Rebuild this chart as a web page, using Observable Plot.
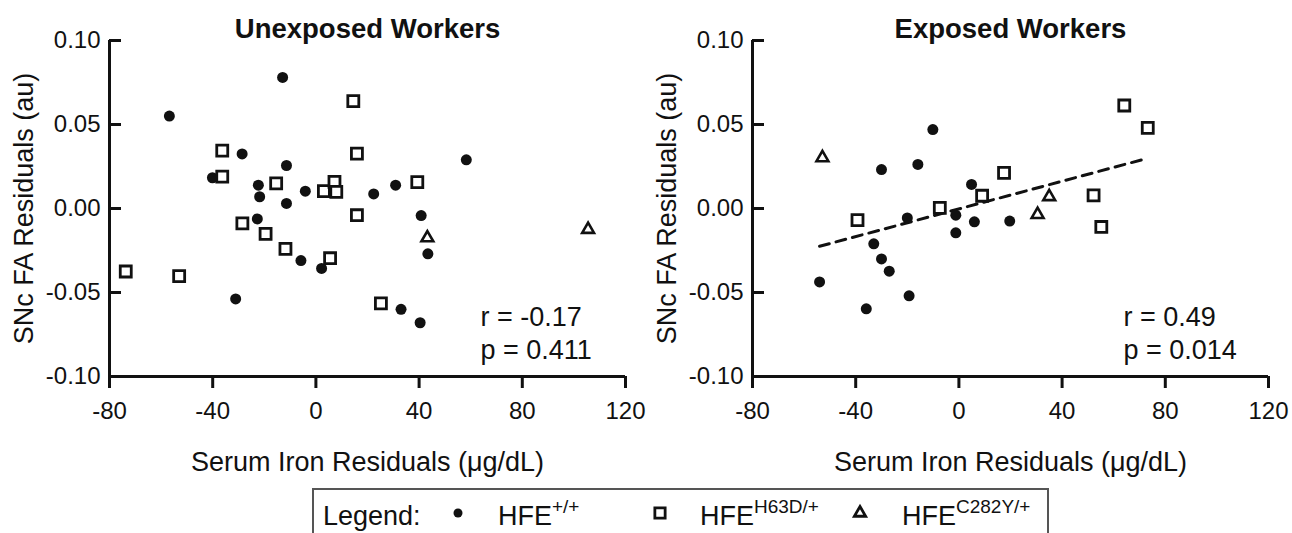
<!DOCTYPE html>
<html><head><meta charset="utf-8">
<script src="https://cdn.jsdelivr.net/npm/d3@7"></script>
<script src="https://cdn.jsdelivr.net/npm/@observablehq/plot@0.6"></script>
<style>
html,body{margin:0;padding:0;background:#fff;overflow:hidden;}
#wrap{position:relative;width:1292px;height:533px;font-family:"Liberation Sans",Arial,sans-serif;color:#111;}
#left,#right,#legend{position:absolute;}
#left{left:0;top:0}
#right{left:646px;top:0}
#legend{left:0;top:480px}
</style></head>
<body><div id="wrap"><div id="left"></div><div id="right"></div><div id="legend"></div></div>
<script>
// ---- axes ----
const xDomain = [-80, 120];
const yDomain = [-0.10, 0.10];
const xTicks = [-80, -40, 0, 40, 80, 120];
const yTicks = [-0.10, -0.05, 0.00, 0.05, 0.10];
const xTitle = "Serum Iron Residuals (\u03bcg/dL)";
const yTitle = "SNc FA Residuals (au)";
const panelTitles = ["Unexposed Workers", "Exposed Workers"];
const statsText = [["r = -0.17", "p = 0.411"], ["r = 0.49", "p = 0.014"]];
const legendNames = [["HFE", "+/+"], ["HFE", "H63D/+"], ["HFE", "C282Y/+"]];

// ---- Unexposed workers: [iron residual, FA residual] ----
const unexposedWT = [
  [-12.9, 0.078], [-56.8, 0.055], [-28.6, 0.0325], [58.3, 0.029], [-11.4, 0.0256],
  [-40.1, 0.0183], [-22.3, 0.0139], [-4.1, 0.0103], [22.4, 0.0087], [30.9, 0.0139],
  [-21.8, 0.007], [-11.4, 0.003], [-22.7, -0.0062], [-5.8, -0.031], [2.2, -0.0357],
  [40.8, -0.0042], [43.4, -0.027], [-31.1, -0.0538], [33.0, -0.060], [40.4, -0.068]
];
const unexposedH63D = [
  [14.5, 0.0639], [-36.3, 0.0345], [15.9, 0.0327], [-36.3, 0.019], [-15.4, 0.0149],
  [3.1, 0.0103], [7.2, 0.0159], [7.9, 0.0099], [39.3, 0.0157], [-28.5, -0.0089],
  [-19.5, -0.0151], [-11.8, -0.024], [5.5, -0.0296], [15.9, -0.004], [-73.7, -0.0375],
  [-53.0, -0.0403], [25.2, -0.0565]
];
const unexposedC282Y = [[43.2, -0.0175], [105.5, -0.0125]];

// ---- Exposed workers ----
const exposedWT = [
  [-30.0, 0.0232], [-15.9, 0.0262], [-10.1, 0.047], [4.9, 0.0143], [-20.0, -0.0056],
  [-1.2, -0.004], [-1.2, -0.0145], [6.0, -0.0079], [19.7, -0.0075], [-33.0, -0.021],
  [-30.0, -0.030], [-27.0, -0.0373], [-54.0, -0.0437], [-19.3, -0.052], [-35.9, -0.0597]
];
const exposedH63D = [
  [17.5, 0.0212], [64.1, 0.0613], [73.2, 0.048], [9.0, 0.0076], [52.2, 0.0078],
  [-39.3, -0.0069], [-7.4, 0.0004], [55.2, -0.011]
];
const exposedC282Y = [[-52.9, 0.0302], [35.0, 0.007], [30.5, -0.0036]];

const FONT = '"Liberation Sans", Arial, sans-serif';
const INK = "#111";

function panel(wt, h63d, c282y, title, stats, ml, mr, withFit) {
  const marks = [
    Plot.ruleX([xDomain[0]], {y1: yDomain[0], y2: yDomain[1], stroke: INK, strokeWidth: 3}),
    Plot.ruleY([yDomain[0]], {x1: xDomain[0], x2: xDomain[1], stroke: INK, strokeWidth: 3}),
    Plot.axisX(xTicks, {tickSize: 12, tickPadding: 13, tickFormat: d => String(d), strokeWidth: 3, fontSize: 24, label: null}),
    Plot.axisY(yTicks, {tickSize: -12, tickPadding: 21, tickFormat: d => d.toFixed(2), strokeWidth: 3, fontSize: 24, label: null}),
    Plot.text([yTitle], {frameAnchor: "left", textAnchor: "middle", lineAnchor: "middle", dx: -85, rotate: -90, fontSize: 27}),
    Plot.text([xTitle], {frameAnchor: "bottom", textAnchor: "middle", lineAnchor: "middle", dy: 86, fontSize: 27}),
    Plot.text([title], {frameAnchor: "top", textAnchor: "middle", lineAnchor: "middle", dy: -11, fontSize: 27.5, fontWeight: "bold"}),
    Plot.text([stats[0]], {frameAnchor: "bottom-right", textAnchor: "start", lineAnchor: "middle", dx: -145, dy: -59, fontSize: 27}),
    Plot.text([stats[1]], {frameAnchor: "bottom-right", textAnchor: "start", lineAnchor: "middle", dx: -145, dy: -26, fontSize: 27})
  ];
  if (withFit) {
    marks.push(Plot.linearRegressionY([...wt, ...h63d, ...c282y], {
      x: d => d[0], y: d => d[1], ci: 0, stroke: INK, strokeWidth: 3, strokeDasharray: "10,7"
    }));
  }
  marks.push(
    Plot.dot(wt, {x: d => d[0], y: d => d[1], r: 5.5, fill: INK, stroke: "none"}),
    Plot.dot(h63d, {x: d => d[0], y: d => d[1], symbol: "square", r: 6.2, fill: "white", stroke: INK, strokeWidth: 2.8}),
    Plot.dot(c282y, {x: d => d[0], y: d => d[1], symbol: "triangle", r: 4.4, fill: "white", stroke: INK, strokeWidth: 2.6})
  );
  return Plot.plot({
    width: 646, height: 480,
    marginLeft: ml, marginRight: mr, marginTop: 40, marginBottom: 104,
    x: {domain: xDomain},
    y: {domain: yDomain},
    style: {fontFamily: FONT, fontSize: "24px", color: INK, background: "white", overflow: "visible"},
    marks
  });
}

document.getElementById("left").append(panel(unexposedWT, unexposedH63D, unexposedC282Y, panelTitles[0], statsText[0], 109, 21, false));
document.getElementById("right").append(panel(exposedWT, exposedH63D, exposedC282Y, panelTitles[1], statsText[1], 106, 24, true));

// ---- legend ----
const svg = d3.select("#legend").append("svg").attr("width", 1292).attr("height", 53)
  .style("font-family", FONT).style("display", "block");
svg.append("rect").attr("x", 313).attr("y", 9).attr("width", 735).attr("height", 60)
  .attr("fill", "none").attr("stroke", "#555").attr("stroke-width", 2);
svg.append("text").attr("x", 323).attr("y", 45).attr("font-size", 27).attr("fill", INK).text("Legend:");
const symX = [458, 660, 860];
const labX = [498, 700, 902];
const syms = [d3.symbolCircle, d3.symbolSquare, d3.symbolTriangle];
const symSize = [4.5 * 4.5 * Math.PI, 5.8 * 5.8 * Math.PI, 4.2 * 4.2 * Math.PI];
legendNames.forEach((nm, i) => {
  svg.append("path").attr("transform", `translate(${symX[i]},33)`)
    .attr("d", d3.symbol(syms[i], symSize[i])())
    .attr("fill", i === 0 ? INK : "white").attr("stroke", i === 0 ? "none" : INK).attr("stroke-width", 2.8);
  const t = svg.append("text").attr("x", labX[i]).attr("y", 45).attr("font-size", 27).attr("fill", INK);
  t.append("tspan").text(nm[0]);
  t.append("tspan").attr("dy", -12).attr("font-size", 19).text(nm[1]);
});
</script></body></html>
